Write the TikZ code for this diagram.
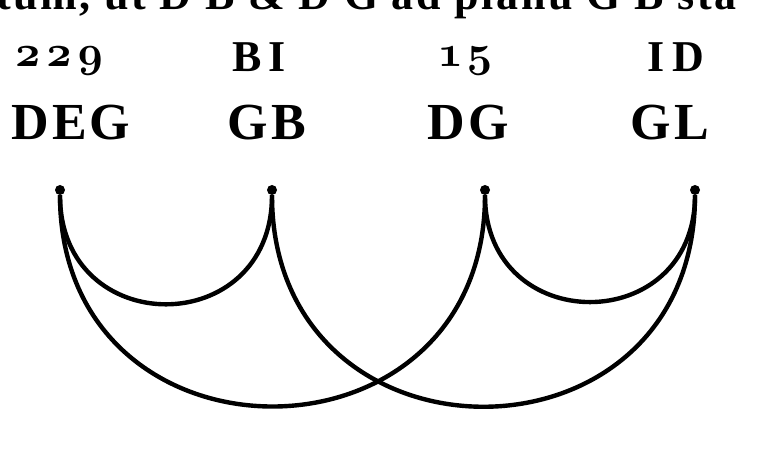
\documentclass[tikz,border=0pt]{standalone}
\usepackage{fix-cm}
\usepackage{fontspec}
\setmainfont{Liberation Serif}
\newfontfamily\printfont[LetterSpace=6]{Liberation Serif}
\newcommand\osnum{\fontencoding{OML}\fontfamily{cmm}\fontseries{b}\fontshape{it}\selectfont}
\usetikzlibrary{positioning}

\begin{document}
\begin{tikzpicture}[x=1pt, y=1pt,
	pt/.style={circle, fill, inner sep=0pt, minimum size=10pt},
	botrow/.style={font=\printfont\bfseries\fontsize{52}{60}\selectfont, anchor=base, inner sep=0pt},
	toprow/.style={font=\printfont\bfseries\fontsize{44}{50}\selectfont, anchor=base, inner sep=0pt},
	bow/.style={line width=4.4pt, out=-90, in=-90}]
				\useasboundingbox (0,0) rectangle (758,471);
				\begin{scope}
					\clip (0,0) rectangle (758,471);
					\node[toprow, anchor=base west] (line) at (-4,461) {tum, ut D B \& D G ad planũ G B sta};
				\end{scope}
				\node[toprow] (n229) at (59,404) {\osnum 2\kern6pt 2\kern6pt 9};
				\node[toprow] (BI) at (259,399) {B\,I};
				\node[toprow] (n15) at (465,404) {\osnum 1\kern4pt 5};
				\node[toprow] (ID) at (676,399) {I\,D};
				\node[botrow] (DEG) at (71,331) {DEG};
				\node[botrow] (GB) at (267,331) {GB};
				\node[botrow] (DG) at (468,331) {DG};
				\node[botrow] (GL) at (670,331) {GL};
				\node[pt] (P1) at (60,281) {};
				\node[pt] (P2) at (272,281) {};
				\node[pt] (P3) at (485,281) {};
				\node[pt] (P4) at (695,281) {};
				\draw[bow, looseness=1.76] (P1) to (P2);
				\draw[bow, looseness=1.74] (P3) to (P4);
				\draw[bow, looseness=1.70] (P1) to (P3);
				\draw[bow, looseness=1.71] (P2) to (P4);
			\end{tikzpicture}
\end{document}
